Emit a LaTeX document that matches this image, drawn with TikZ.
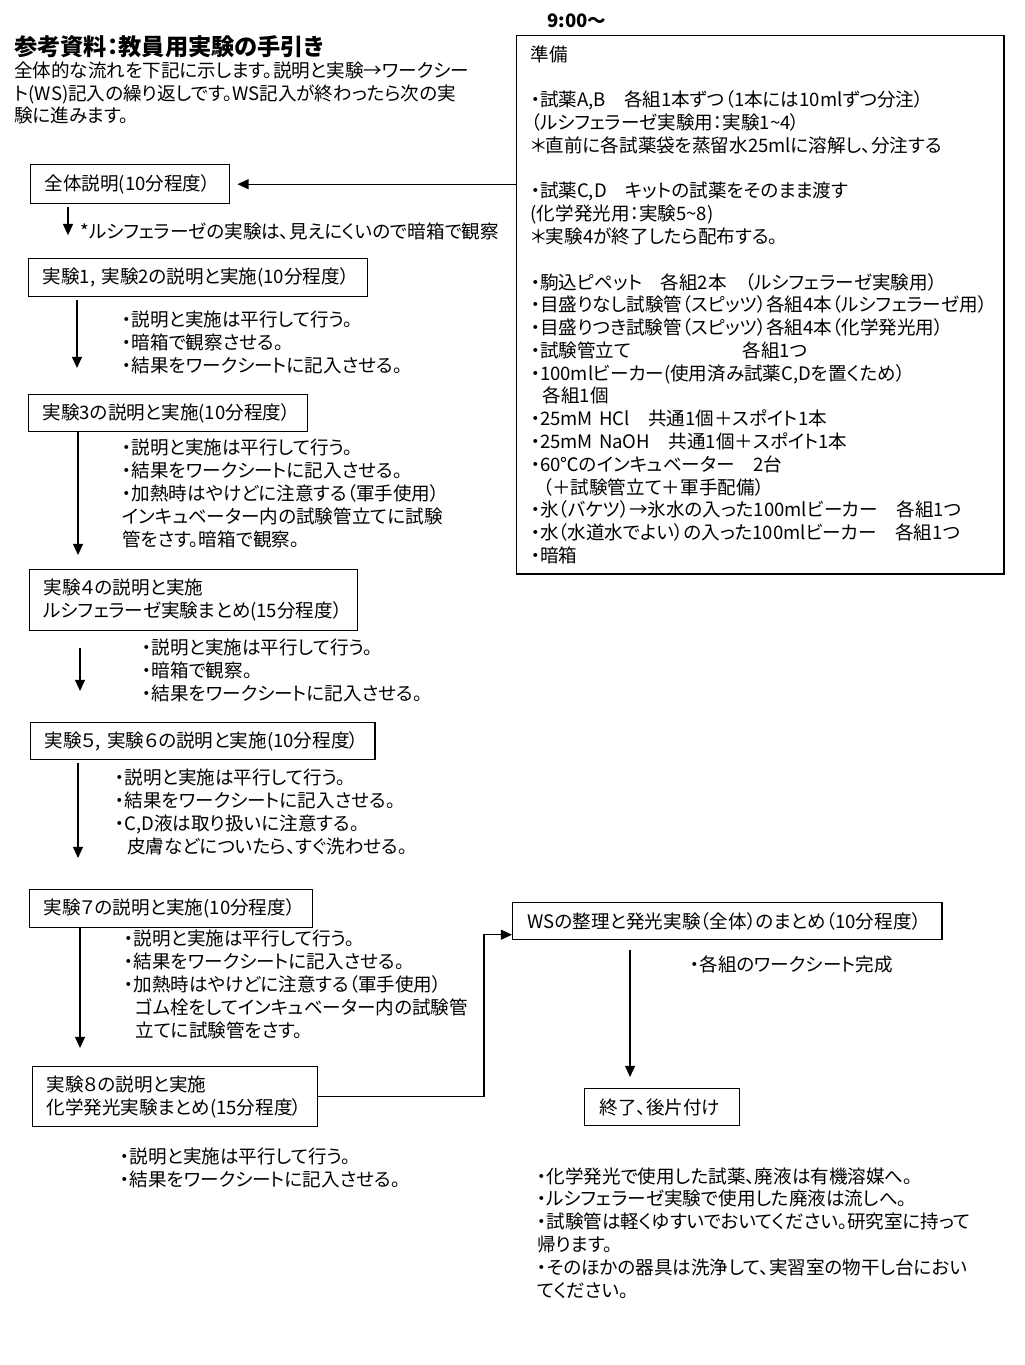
\documentclass[tikz,border=0pt]{standalone}
\usepackage{fontspec}
\setmainfont{Noto Sans CJK JP}[RawFeature=+palt]
\usetikzlibrary{arrows.meta}

\begin{document}
\begin{tikzpicture}[x=0.025cm,y=-0.025cm,
  font=\fontsize{13.2}{16.2}\selectfont,
  procbox/.style={draw,line width=1pt,anchor=north west,align=left,
    inner xsep=0.35cm,inner ysep=0pt},
  notetext/.style={anchor=base west,align=left,inner sep=0pt},
  flowarrow/.style={-{Triangle[length=0.28cm,width=0.25cm]},line width=1pt}]
\useasboundingbox (0,0) rectangle (1024,1365);
% Heading and introduction (multi-line notes sit on their last baseline)
\node[notetext,font=\bfseries\fontsize{16.5}{20}\selectfont] (title) at (14,56) {参考資料：教員用実験の手引き};
\node[notetext] (intro) at (14,123) {全体的な流れを下記に示します。説明と実験→ワークシー\\ト(WS)記入の繰り返しです。WS記入が終わったら次の実\\験に進みます。};
\node[notetext,font=\bfseries\fontsize{13.2}{16.2}\selectfont] (time) at (547,28) {9:00〜};
% Preparation list (right)
\node[procbox,text width=11.475cm,minimum height=13.45cm] (prep) at (516,35) {準備\\[16.2pt]
・試薬A,B　各組1本ずつ（1本には10mlずつ分注）\\
（ルシフェラーゼ実験用：実験1\textasciitilde4）\\
＊直前に各試薬袋を蒸留水25mlに溶解し、分注する\\[16.2pt]
・試薬C,D　キットの試薬をそのまま渡す\\
(化学発光用：実験5\textasciitilde8)\\
＊実験4が終了したら配布する。\\[16.2pt]
・駒込ピペット　各組2本　（ルシフェラーゼ実験用）\\
・目盛りなし試験管（スピッツ）各組4本（ルシフェラーゼ用）\\
・目盛りつき試験管（スピッツ）各組4本（化学発光用）\\
・試験管立て　　　　　　各組1つ\\
・100mlビーカー(使用済み試薬C,Dを置くため）\\
\hspace*{0.3cm}各組1個\\
・25mM HCl　共通1個＋スポイト1本\\
・25mM NaOH　共通1個＋スポイト1本\\
・60℃のインキュベーター　2台\\
\hspace*{0.3cm}（＋試験管立て＋軍手配備）\\
・氷（バケツ）→氷水の入った100mlビーカー　各組1つ\\
・水（水道水でよい）の入った100mlビーカー　各組1つ\\
・暗箱};
% Flow of the lesson (left)
\node[procbox,text width=4.275cm,minimum height=0.975cm] (all) at (30,164) {全体説明(10分程度）};
\node[notetext] (note0) at (80,239) {*ルシフェラーゼの実験は、見えにくいので暗箱で観察};
\node[procbox,text width=7.775cm,minimum height=0.95cm] (ex1) at (28,258) {実験1, 実験2の説明と実施(10分程度）};
\node[notetext] (note1) at (122,372) {・説明と実施は平行して行う。\\・暗箱で観察させる。\\・結果をワークシートに記入させる。};
\node[procbox,text width=6.275cm,minimum height=0.925cm] (ex3) at (28,394) {実験3の説明と実施(10分程度）};
\node[notetext] (note3) at (122,546) {・説明と実施は平行して行う。\\・結果をワークシートに記入させる。\\・加熱時はやけどに注意する（軍手使用）\\インキュベーター内の試験管立てに試験\\管をさす。暗箱で観察。};
\node[procbox,text width=7.5cm,minimum height=1.525cm] (ex4) at (29,569) {実験４の説明と実施\\ルシフェラーゼ実験まとめ(15分程度）};
\node[notetext] (note4) at (142,700) {・説明と実施は平行して行う。\\・暗箱で観察。\\・結果をワークシートに記入させる。};
\node[procbox,text width=7.9cm,minimum height=0.925cm] (ex5) at (30,722) {実験５, 実験６の説明と実施(10分程度）};
\node[notetext] (note5) at (115,853) {・説明と実施は平行して行う。\\・結果をワークシートに記入させる。\\・C,D液は取り扱いに注意する。\\\hspace*{0.3cm}皮膚などについたら、すぐ洗わせる。};
\node[procbox,text width=6.375cm,minimum height=0.95cm] (ex7) at (29,889) {実験７の説明と実施(10分程度）};
\node[notetext] (note7) at (124,1037) {・説明と実施は平行して行う。\\・結果をワークシートに記入させる。\\・加熱時はやけどに注意する（軍手使用）\\\hspace*{0.28cm}ゴム栓をしてインキュベーター内の試験管\\\hspace*{0.28cm}立てに試験管をさす。};
\node[procbox,text width=6.425cm,minimum height=1.5cm] (ex8) at (32,1066) {実験８の説明と実施\\化学発光実験まとめ(15分程度）};
\node[notetext] (note8) at (120,1186) {・説明と実施は平行して行う。\\・結果をワークシートに記入させる。};
% Summary and clean-up (right)
\node[procbox,text width=9.975cm,minimum height=0.925cm,inner xsep=0.375cm] (ws) at (512,902) {WSの整理と発光実験（全体）のまとめ（10分程度）};
\node[notetext] (wsnote) at (690,971) {・各組のワークシート完成};
\node[procbox,text width=3.125cm,minimum height=0.925cm,inner xsep=0.375cm] (end) at (584,1088) {終了、後片付け};
\node[notetext] (endnote) at (537,1297) {・化学発光で使用した試薬、廃液は有機溶媒へ。\\・ルシフェラーゼ実験で使用した廃液は流しへ。\\・試験管は軽くゆすいでおいてください。研究室に持って\\帰ります。\\・そのほかの器具は洗浄して、実習室の物干し台におい\\てください。};
% Connectors
\draw[flowarrow,shorten >=0.175cm] (prep.west |- all.east) -- (all.east);
\draw[flowarrow,shorten <=0.075cm] ([xshift=0.95cm]all.south west) -- ([xshift=0.95cm]all.south west |- note0.mid);
\draw[flowarrow,shorten <=0.075cm,shorten >=0.65cm] ([xshift=1.225cm]ex1.south west) -- ([xshift=1.225cm]ex1.south west |- ex3.north);
\draw[flowarrow,shorten >=0.35cm] ([xshift=1.25cm]ex3.south west) -- ([xshift=1.25cm]ex3.south west |- ex4.north);
\draw[flowarrow,shorten <=0.425cm,shorten >=0.775cm] ([xshift=1.275cm]ex4.south west) -- ([xshift=1.275cm]ex4.south west |- ex5.north);
\draw[flowarrow,shorten <=0.075cm,shorten >=0.775cm] ([xshift=1.2cm]ex5.south west) -- ([xshift=1.2cm]ex5.south west |- ex7.north);
\draw[flowarrow,shorten >=0.45cm] ([xshift=1.275cm]ex7.south west) -- ([xshift=1.275cm]ex7.south west |- ex8.north);
\draw[flowarrow] (ex8.east) -| ([xshift=-0.7cm,yshift=-0.3375cm]ws.west) -- ([yshift=-0.3375cm]ws.west);
\draw[flowarrow,shorten <=0.25cm,shorten >=0.275cm] ([xshift=2.95cm]ws.south west) -- ([xshift=2.95cm]ws.south west |- end.north);
\end{tikzpicture}
\end{document}
